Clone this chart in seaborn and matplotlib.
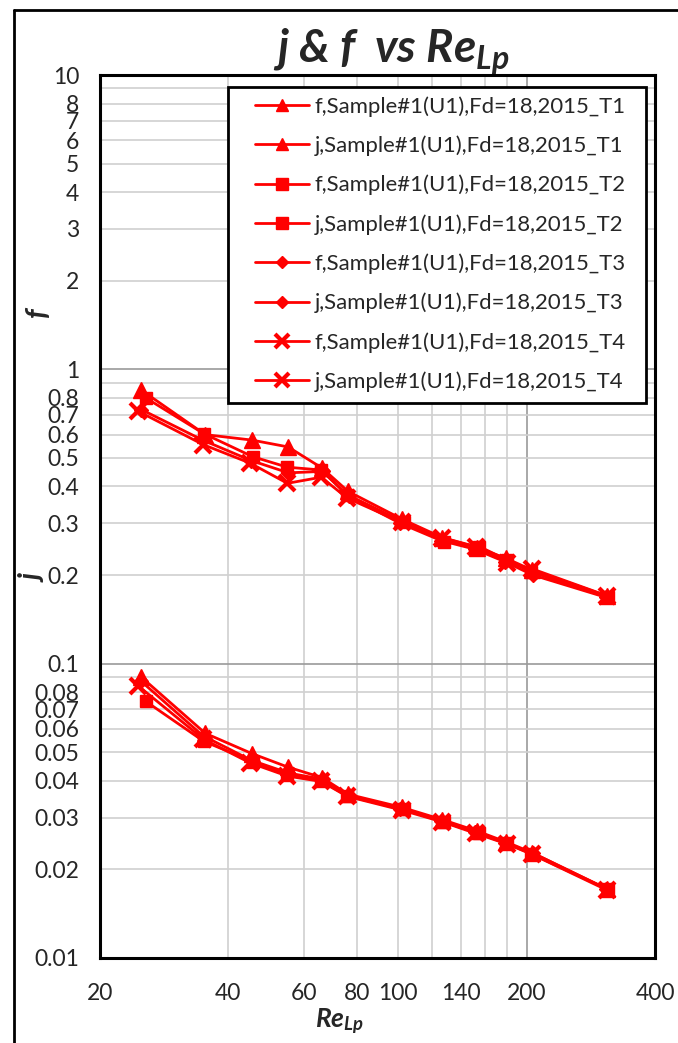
import numpy as np
import pandas as pd
import matplotlib
matplotlib.use("Agg")
import matplotlib.pyplot as plt
import seaborn as sns
from matplotlib.ticker import FixedLocator, FixedFormatter
from matplotlib.lines import Line2D
from matplotlib.patches import Rectangle

# ---------------- data ----------------
re_T1 = [25.0, 35.3, 45.4, 55.2, 66.3, 76.3, 102, 127, 153, 179, 206, 308]
re_T2 = [25.6, 35.0, 45.6, 55.0, 66.0, 76.0, 103, 128, 155, 180, 205, 310]
re_T3 = [25.0, 34.8, 45.2, 55.3, 66.5, 76.5, 101, 126, 151, 178, 207, 307]
re_T4 = [24.6, 34.9, 45.0, 55.0, 66.0, 76.0, 102, 127, 152, 180, 206, 309]

f_T1 = [0.85, 0.60, 0.575, 0.545, 0.462, 0.385, 0.310, 0.268, 0.248, 0.228, 0.208, 0.170]
f_T2 = [0.80, 0.605, 0.505, 0.465, 0.455, 0.375, 0.303, 0.260, 0.250, 0.225, 0.205, 0.168]
f_T3 = [0.73, 0.575, 0.49, 0.445, 0.45, 0.370, 0.300, 0.262, 0.245, 0.222, 0.200, 0.168]
f_T4 = [0.72, 0.555, 0.48, 0.41, 0.43, 0.365, 0.302, 0.268, 0.250, 0.220, 0.210, 0.170]

j_T1 = [0.090, 0.058, 0.0495, 0.0445, 0.041, 0.0360, 0.0325, 0.0295, 0.0270, 0.0248, 0.0228, 0.0172]
j_T2 = [0.0745, 0.0545, 0.0465, 0.0420, 0.0400, 0.0355, 0.0320, 0.0290, 0.0266, 0.0245, 0.0226, 0.0171]
j_T3 = [0.087, 0.057, 0.0470, 0.0425, 0.0405, 0.0357, 0.0322, 0.0292, 0.0268, 0.0246, 0.0227, 0.0172]
j_T4 = [0.084, 0.0555, 0.0460, 0.0415, 0.0398, 0.0354, 0.0318, 0.0290, 0.0265, 0.0244, 0.0225, 0.0170]

series_labels = [
    "f,Sample#1(U1),Fd=18,2015_T1", "j,Sample#1(U1),Fd=18,2015_T1",
    "f,Sample#1(U1),Fd=18,2015_T2", "j,Sample#1(U1),Fd=18,2015_T2",
    "f,Sample#1(U1),Fd=18,2015_T3", "j,Sample#1(U1),Fd=18,2015_T3",
    "f,Sample#1(U1),Fd=18,2015_T4", "j,Sample#1(U1),Fd=18,2015_T4",
]

x_tick_major = [20, 200]
x_major_labels = ["20", "200"]
x_tick_minor = [40, 60, 80, 100, 120, 140, 160, 180, 400]
x_minor_labels = ["40", "60", "80", "100", "", "140", "", "", "400"]

# ---------------- style ----------------
sns.set_theme(style="white")
plt.rcParams["font.family"] = ["Lato", "DejaVu Sans"]
plt.rcParams["mathtext.fontset"] = "custom"
plt.rcParams["mathtext.rm"] = "Lato"
plt.rcParams["mathtext.it"] = "Lato:italic"
plt.rcParams["mathtext.bf"] = "Lato:bold"
plt.rcParams["mathtext.bfit"] = "Lato:bold:italic"

W, H = 678, 1043
fig = plt.figure(figsize=(W / 100, H / 100), dpi=100)
ax = fig.add_axes([100 / W, 1 - 958 / H, 555 / W, 883 / H])

RED = "#ff0000"
TXT = "#262626"
styles = [
    ("^", 11, 1.0),
    ("s", 9, 1.0),
    ("D", 7, 1.0),
    ("x", 11, 3.0),
]
legend_sizes = [9, 8.5, 6, 9.5]
tests = [(re_T1, f_T1, j_T1), (re_T2, f_T2, j_T2), (re_T3, f_T3, j_T3), (re_T4, f_T4, j_T4)]

for (re, f, j), (m, ms, mew) in zip(tests, styles):
    for yv in (f, j):
        df = pd.DataFrame({"Re": re, "v": yv})
        sns.lineplot(data=df, x="Re", y="v", ax=ax, color=RED, marker=m,
                     markersize=ms, markeredgewidth=mew, markeredgecolor=RED,
                     linewidth=2.0, legend=False, sort=False, zorder=5)

ax.set_xscale("log")
ax.set_yscale("log")
ax.set_xlim(20, 400)
ax.set_ylim(0.01, 10)
ax.set_xlabel("")
ax.set_ylabel("")

# x ticks
ax.xaxis.set_major_locator(FixedLocator(x_tick_major))
ax.xaxis.set_major_formatter(FixedFormatter(x_major_labels))
ax.xaxis.set_minor_locator(FixedLocator(x_tick_minor))
ax.xaxis.set_minor_formatter(FixedFormatter(x_minor_labels))

# y ticks
y_major = [0.01, 0.1, 1, 10]
y_major_labels = ["0.01", "0.1", "1", "10"]
y_minor = []
y_minor_labels = []
for dec, fmt in [(0.01, "{:.2f}"), (0.1, "{:.1f}"), (1, "{:.0f}")]:
    for k in range(2, 10):
        y_minor.append(k * dec)
        y_minor_labels.append("" if k == 9 else fmt.format(k * dec))
ax.yaxis.set_major_locator(FixedLocator(y_major))
ax.yaxis.set_major_formatter(FixedFormatter(y_major_labels))
ax.yaxis.set_minor_locator(FixedLocator(y_minor))
ax.yaxis.set_minor_formatter(FixedFormatter(y_minor_labels))

ax.tick_params(axis="both", which="major", direction="out", length=7, width=2,
               color="black", labelsize=16.5, labelcolor=TXT)
ax.tick_params(axis="both", which="minor", length=0, labelsize=16.5, labelcolor=TXT)
ax.tick_params(axis="y", which="major", pad=8)
ax.tick_params(axis="y", which="minor", pad=15)
ax.tick_params(axis="x", which="major", pad=11)
ax.tick_params(axis="x", which="minor", pad=18)

ax.grid(True, which="minor", color="#d0d0d0", linewidth=1.2, zorder=0)
ax.grid(True, which="major", color="#9a9a9a", linewidth=1.2, zorder=0)
ax.set_axisbelow(True)
for s in ax.spines.values():
    s.set_visible(True)
    s.set_color("black")
    s.set_linewidth(2.2)

# legend box (reference box geometry) and entries
box = Rectangle(((228 - 100) / 555, (958 - 403) / 883), (646 - 228) / 555,
                (403 - 87) / 883, transform=ax.transAxes, facecolor="white",
                edgecolor="black", linewidth=2, zorder=9)
ax.add_patch(box)
handles = []
for (m, ms, mew), lms in zip(styles, legend_sizes):
    for _ in range(2):
        handles.append(Line2D([], [], color=RED, marker=m, linewidth=2,
                              markersize=lms, markeredgewidth=mew,
                              markeredgecolor=RED))
leg = ax.legend(handles, series_labels, loc="upper left",
                bbox_to_anchor=((255 - 100) / 555, (958 - 96) / 883),
                fontsize=15.9, frameon=False, labelspacing=0.85,
                handlelength=2.45, handletextpad=0.25,
                borderpad=0, borderaxespad=0)
for t in leg.get_texts():
    t.set_color(TXT)
leg.set_zorder(10)

# titles and axis labels
fig.text(391 / W, 1 - 62 / H, r"j & f  vs Re$_{\mathbfit{Lp}}$", ha="center",
         va="baseline", fontsize=33, fontweight="bold", style="italic", color=TXT)
fig.text(340 / W, 1 - 1022 / H, r"Re$_{\mathbfit{Lp}}$", ha="center", va="center",
         fontsize=19, fontweight="bold", style="italic", color=TXT)
fig.text(38 / W, 1 - 312 / H, "f", ha="center", va="center", rotation=90,
         fontsize=21, fontweight="bold", style="italic", color=TXT)
fig.text(34 / W, 1 - 578 / H, "j", ha="center", va="center", rotation=90,
         fontsize=21, fontweight="bold", style="italic", color=TXT)

# outer frame
fig.add_artist(Line2D([14 / W, 14 / W], [0, 1 - 10 / H], transform=fig.transFigure,
                      color="black", linewidth=2))
fig.add_artist(Line2D([14 / W, 1], [1 - 10 / H, 1 - 10 / H], transform=fig.transFigure,
                      color="black", linewidth=2))

fig.savefig("out.png", dpi=100, facecolor="white")
